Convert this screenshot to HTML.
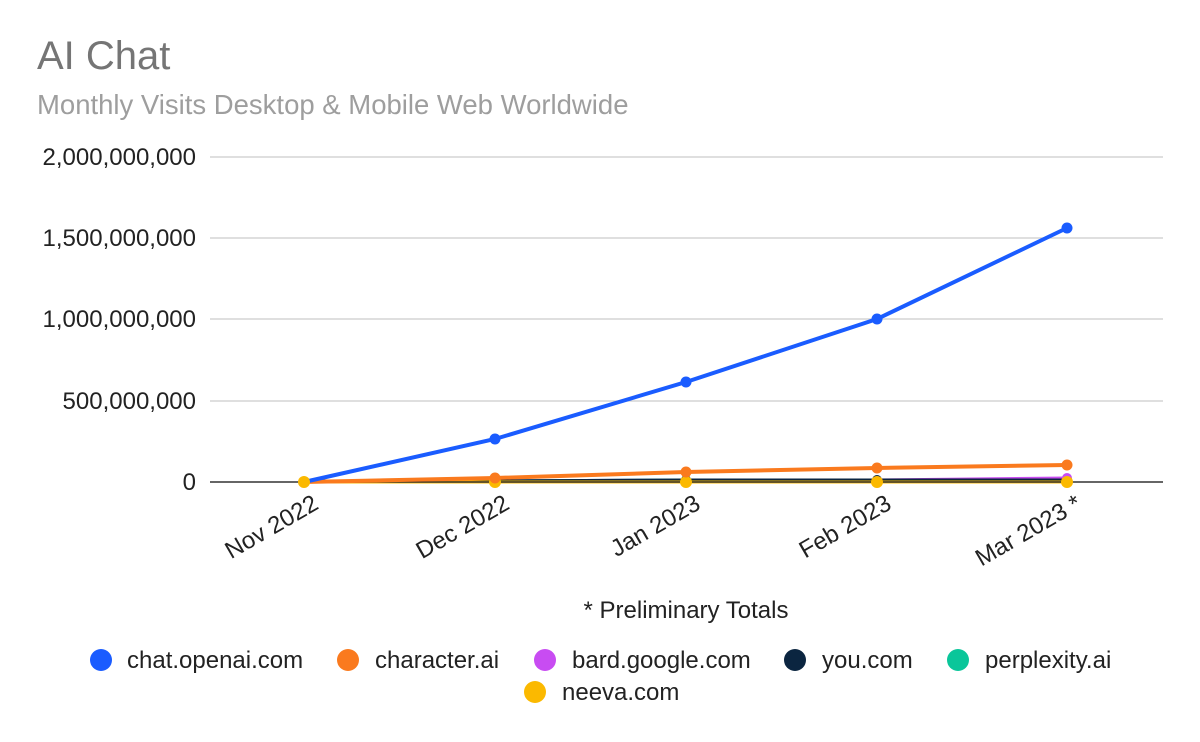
<!DOCTYPE html>
<html><head><style>body{margin:0;background:#fff}svg{display:block}</style></head><body>
<svg width="1200" height="742" font-family="Liberation Sans, Arial, sans-serif">
<text x="37" y="69" font-size="40" fill="#757575">AI Chat</text>
<text x="37" y="114" font-size="27.5" fill="#9e9e9e">Monthly Visits Desktop &amp; Mobile Web Worldwide</text>
<g stroke="#cccccc" stroke-width="1.3">
<line x1="210" x2="1163" y1="157" y2="157"/><line x1="210" x2="1163" y1="238" y2="238"/>
<line x1="210" x2="1163" y1="319" y2="319"/><line x1="210" x2="1163" y1="401" y2="401"/>
</g>
<g font-size="24" fill="#222" text-anchor="end">
<text x="196" y="165">2,000,000,000</text><text x="196" y="246">1,500,000,000</text>
<text x="196" y="327">1,000,000,000</text><text x="196" y="409">500,000,000</text>
<text x="196" y="490">0</text></g>
<g font-size="24" fill="#222" text-anchor="end">
<text transform="translate(320,508) rotate(-30)">Nov 2022</text>
<text transform="translate(511,508) rotate(-30)">Dec 2022</text>
<text transform="translate(702,508) rotate(-30)">Jan 2023</text>
<text transform="translate(893,508) rotate(-30)">Feb 2023</text>
<text transform="translate(1083,508) rotate(-30)">Mar 2023 *</text>
</g>
<text x="686" y="618" font-size="24" fill="#222" text-anchor="middle">* Preliminary Totals</text>
<polyline points="304,481 495,481 686,480 877,480 1067,478" fill="none" stroke="#c84cf2" stroke-width="3"/>
<polyline points="304,481 495,481 686,480 877,480 1067,480" fill="none" stroke="#0ac69a" stroke-width="3"/>
<polyline points="304,481 495,481 686,480 877,480 1067,480" fill="none" stroke="#0b2540" stroke-width="3"/>
<polyline points="304,482 495,482 686,482 877,482 1067,482" fill="none" stroke="#fbb900" stroke-width="3"/>
<line x1="210" x2="1163" y1="482" y2="482" stroke="#333" stroke-width="1.5"/>
<polyline points="304,482 495,478 686,472 877,468 1067,465" fill="none" stroke="#fa7a1e" stroke-width="4"/>
<polyline points="304,482 495,439 686,382 877,319 1067,228" fill="none" stroke="#1a5cff" stroke-width="4"/>
<g fill="#c84cf2"><circle cx="1067" cy="478" r="5"/></g>
<g fill="#0b2540"><circle cx="686" cy="480" r="5"/><circle cx="877" cy="480" r="5"/></g>
<g fill="#fbb900"><circle cx="304" cy="482" r="6"/><circle cx="495" cy="482" r="6"/><circle cx="686" cy="482" r="6"/><circle cx="877" cy="482" r="6"/><circle cx="1067" cy="482" r="6"/></g>
<g fill="#fa7a1e"><circle cx="495" cy="478" r="5.5"/><circle cx="686" cy="472" r="5.5"/><circle cx="877" cy="468" r="5.5"/><circle cx="1067" cy="465" r="5.5"/></g>
<g fill="#1a5cff"><circle cx="495" cy="439" r="5.5"/><circle cx="686" cy="382" r="5.5"/><circle cx="877" cy="319" r="5.5"/><circle cx="1067" cy="228" r="5.5"/></g>
<g font-size="24" fill="#222">
<circle cx="101" cy="660" r="11" fill="#1a5cff"/><text x="127" y="668">chat.openai.com</text>
<circle cx="348" cy="660" r="11" fill="#fa7a1e"/><text x="375" y="668">character.ai</text>
<circle cx="545" cy="660" r="11" fill="#c84cf2"/><text x="572" y="668">bard.google.com</text>
<circle cx="795" cy="660" r="11" fill="#0b2540"/><text x="822" y="668">you.com</text>
<circle cx="958" cy="660" r="11" fill="#0ac69a"/><text x="985" y="668">perplexity.ai</text>
<circle cx="535" cy="692" r="11" fill="#fbb900"/><text x="562" y="700">neeva.com</text>
</g>
</svg>
</body></html>
